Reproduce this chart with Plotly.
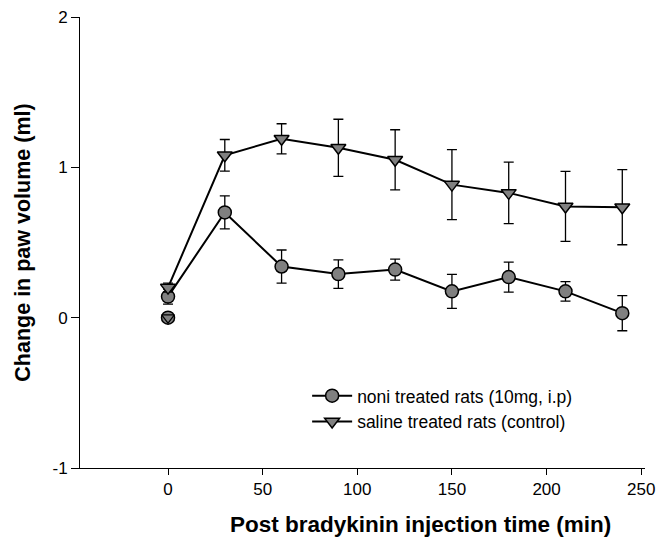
import plotly.graph_objects as go

time = [0, 30, 60, 90, 120, 150, 180, 210, 240]
noni = [0.14, 0.70, 0.34, 0.29, 0.32, 0.175, 0.27, 0.175, 0.03]
noni_err = [0.05, 0.11, 0.11, 0.095, 0.07, 0.113, 0.10, 0.065, 0.117]
saline = [0.20, 1.08, 1.19, 1.13, 1.05, 0.885, 0.83, 0.74, 0.735]
saline_err = [0.03, 0.105, 0.10, 0.19, 0.20, 0.233, 0.205, 0.233, 0.25]
baseline_t = [0]
baseline_v = [0]
x_ticks = [0, 50, 100, 150, 200, 250]
y_ticks = [-1, 0, 1, 2]
y_ticktext = ["-1", "0", "1", "2"]
x_title = "Post bradykinin injection time (min)"
y_title = "Change in paw volume (ml)"

fig = go.Figure()
fig.add_trace(go.Scatter(
    x=time, y=noni, mode="lines+markers", name="noni treated rats (10mg, i.p)",
    line=dict(color="black", width=2),
    marker=dict(symbol="circle", size=13, color="#808080", line=dict(color="black", width=1.5)),
    error_y=dict(type="data", array=noni_err, color="black", thickness=1.3, width=5),
))
fig.add_trace(go.Scatter(
    x=time, y=saline, mode="lines+markers", name="saline treated rats (control)",
    line=dict(color="black", width=2),
    marker=dict(symbol="triangle-down", size=13, color="#808080", line=dict(color="black", width=1.5)),
    error_y=dict(type="data", array=saline_err, color="black", thickness=1.3, width=5),
))
fig.add_trace(go.Scatter(
    x=baseline_t, y=baseline_v, mode="markers", showlegend=False,
    marker=dict(symbol="circle", size=13, color="#808080", line=dict(color="black", width=1.5)),
))
fig.add_trace(go.Scatter(
    x=baseline_t, y=baseline_v, mode="markers", showlegend=False,
    marker=dict(symbol="triangle-down", size=11, color="#808080", line=dict(color="black", width=1.2)),
))

font_family = "Liberation Sans, Arial, sans-serif"
fig.update_layout(
    width=657, height=538,
    margin=dict(l=80, r=12, t=17, b=70),
    plot_bgcolor="white", paper_bgcolor="white",
    font=dict(family=font_family, color="black", size=17),
    xaxis=dict(
        range=[-46.5, 252], tickvals=x_ticks, automargin=False,
        showline=True, linecolor="black", linewidth=1,
        ticks="outside", ticklen=6, tickcolor="black", showgrid=False, zeroline=False,
        tickfont=dict(size=17),
    ),
    yaxis=dict(
        range=[-1, 2], tickvals=y_ticks, ticktext=y_ticktext, automargin=False,
        showline=True, linecolor="black", linewidth=1,
        ticks="outside", ticklen=8, tickcolor="black", showgrid=False, zeroline=False,
        tickfont=dict(size=17),
        title=dict(text="<b>" + y_title + "</b>", font=dict(size=21.5), standoff=15),
    ),
    legend=dict(
        x=0.402, y=0.20, xanchor="left", yanchor="top",
        bgcolor="rgba(0,0,0,0)", font=dict(size=17.5), tracegroupgap=0, itemwidth=40,
    ),
    annotations=[dict(
        text="<b>" + x_title + "</b>", xref="paper", yref="paper",
        x=0.6035, y=-0.125, xanchor="center", yanchor="middle",
        showarrow=False, font=dict(size=22.5),
    )],
)

fig.write_html(
    "out.html",
    config={"displayModeBar": False},
    post_script="document.body.style.margin='0';document.body.style.overflow='hidden';",
)
